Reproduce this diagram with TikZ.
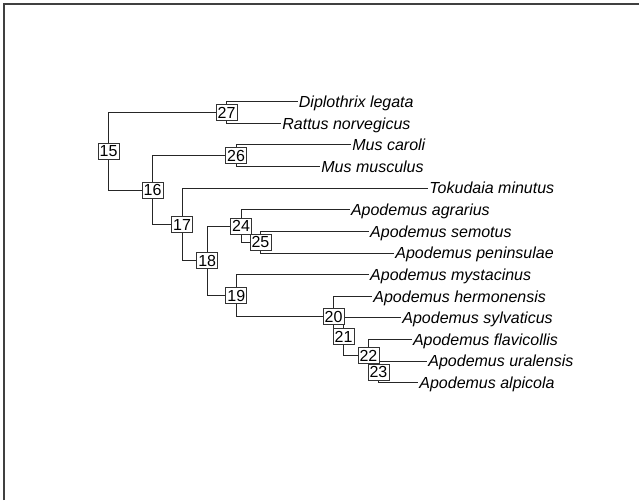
\documentclass[tikz,border=0pt]{standalone}
\usepackage{fontspec}
\setmainfont{Liberation Sans}
\usetikzlibrary{backgrounds}
\begin{document}
\begin{tikzpicture}[x=1pt,y=-1pt,
  branch/.style={draw=black!85,line width=0.9pt},
  clade/.style={draw=black!80,fill=white,line width=0.7pt,inner sep=0pt,
    minimum width=21pt,minimum height=16pt,font=\fontsize{16}{16}\selectfont},
  taxon/.style={anchor=west,inner xsep=1.2pt,inner ysep=0pt,text height=11.4pt,
    text depth=0pt,font=\fontsize{16}{18}\selectfont\itshape}]
\useasboundingbox (0,0) rectangle (639,500);
% plot frame (left and top sides)
\draw[black!75,line width=1.5pt] (3.8,500) -- (3.8,3.8) -- (639,3.8);

% tip labels (line ends at the west anchors)
\node[taxon] (tDip) at (297.5,101.7) {Diplothrix legata};
\node[taxon] (tRat) at (281,123.3) {Rattus norvegicus};
\node[taxon] (tMca) at (351,144.9) {Mus caroli};
\node[taxon] (tMmu) at (320,166.6) {Mus musculus};
\node[taxon] (tTok) at (428,188.2) {Tokudaia minutus};
\node[taxon] (tAgr) at (349.6,209.8) {Apodemus agrarius};
\node[taxon] (tSem) at (368.8,231.4) {Apodemus semotus};
\node[taxon] (tPen) at (394,253.0) {Apodemus peninsulae};
\node[taxon] (tMys) at (368.8,274.7) {Apodemus mystacinus};
\node[taxon] (tHer) at (372,296.3) {Apodemus hermonensis};
\node[taxon] (tSyl) at (401,317.9) {Apodemus sylvaticus};
\node[taxon] (tFla) at (411.6,339.5) {Apodemus flavicollis};
\node[taxon] (tUra) at (427,361.2) {Apodemus uralensis};
\node[taxon] (tAlp) at (418,382.8) {Apodemus alpicola};

% internal nodes with their labels
\node[clade] (n15) at (108.6,151.2) {15};
\node[clade] (n16) at (152.6,190.1) {16};
\node[clade] (n17) at (182,224.5) {17};
\node[clade] (n18) at (207.2,260.8) {18};
\node[clade] (n19) at (236.3,295.6) {19};
\node[clade] (n20) at (333.5,316.5) {20};
\node[clade] (n21) at (343.6,336.8) {21};
\node[clade] (n22) at (368.4,355.7) {22};
\node[clade] (n23) at (378.4,372) {23};
\node[clade] (n24) at (241,226) {24};
\node[clade] (n25) at (260.4,242.2) {25};
\node[clade] (n26) at (236,155.75) {26};
\node[clade] (n27) at (226.6,112.5) {27};

% branches, drawn beneath the labels
\begin{scope}[on background layer]
\draw[branch] (n15.center) |- (n27.center);
\draw[branch] (n15.center) |- (n16.center);
\draw[branch] (n27.center) |- (tDip.west);
\draw[branch] (n27.center) |- (tRat.west);
\draw[branch] (n16.center) |- (n26.center);
\draw[branch] (n16.center) |- (n17.center);
\draw[branch] (n26.center) |- (tMca.west);
\draw[branch] (n26.center) |- (tMmu.west);
\draw[branch] (n17.center) |- (tTok.west);
\draw[branch] (n17.center) |- (n18.center);
\draw[branch] (n18.center) |- (n24.center);
\draw[branch] (n18.center) |- (n19.center);
\draw[branch] (n24.center) |- (tAgr.west);
\draw[branch] (n24.center) |- (n25.center);
\draw[branch] (n25.center) |- (tSem.west);
\draw[branch] (n25.center) |- (tPen.west);
\draw[branch] (n19.center) |- (tMys.west);
\draw[branch] (n19.center) |- (n20.center);
\draw[branch] (n20.center) |- (tHer.west);
\draw[branch] (n20.center) |- (n21.center);
\draw[branch] (n21.center) |- (tSyl.west);
\draw[branch] (n21.center) |- (n22.center);
\draw[branch] (n22.center) |- (tFla.west);
\draw[branch] (n22.center) |- (n23.center);
\draw[branch] (n23.center) |- (tUra.west);
\draw[branch] (n23.center) |- (tAlp.west);
\end{scope}
\end{tikzpicture}
\end{document}
